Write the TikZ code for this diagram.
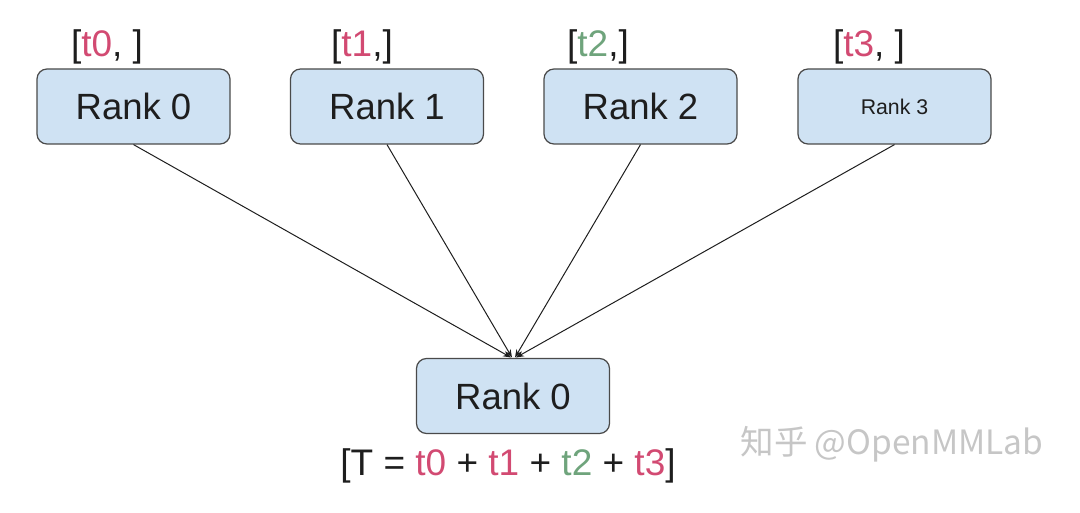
\documentclass[tikz,border=0pt]{standalone}
\usepackage{fontspec}
\setmainfont{Liberation Sans}
\newfontfamily\cjk{Noto Sans CJK SC}
\usetikzlibrary{arrows.meta}
\definecolor{boxfill}{HTML}{CFE2F3}
\definecolor{boxline}{HTML}{4A4A4A}
\definecolor{tred}{HTML}{D24A72}
\definecolor{tgreen}{HTML}{6FA47C}
\definecolor{ink}{HTML}{1E1E1E}
\tikzset{
  rankbox/.style={draw=boxline, line width=1.2pt, fill=boxfill, rounded corners=10pt,
    minimum width=193pt, minimum height=75pt, inner sep=0pt, text=ink,
    font=\fontsize{36.5}{40}\selectfont},
  vec/.style={text=ink, inner sep=0pt, font=\fontsize{37}{42}\selectfont},
  link/.style={draw=ink, line width=1pt, -{Stealth[length=8pt,width=6pt]}}
}
\begin{document}
\begin{tikzpicture}[x=1pt,y=-1pt]
\useasboundingbox (0,0) rectangle (1080,513);
\node[rankbox] (r0) at (133.5,106.5) {Rank 0};
\node[rankbox] (r1) at (387,106.5) {Rank 1};
\node[rankbox] (r2) at (640.5,106.5) {Rank 2};
\node[rankbox, font=\fontsize{21.3}{24}\selectfont] (r3) at (894.5,106.5) {Rank 3};
\node[rankbox] (b0) at (513,396) {Rank 0};
\node[vec] (l0) at (107,47) {[\textcolor{tred}{t0}, ]};
\node[vec] (l1) at (362,47) {[\textcolor{tred}{t1},]};
\node[vec] (l2) at (598,47) {[\textcolor{tgreen}{t2},]};
\node[vec] (l3) at (869,47) {[\textcolor{tred}{t3}, ]};
\node[vec] (sum) at (508,466) {[T = \textcolor{tred}{t0} + \textcolor{tred}{t1} + \textcolor{tgreen}{t2} + \textcolor{tred}{t3}]};
\coordinate (e0) at (511,357.5);
\coordinate (e1) at (512,357.5);
\coordinate (e2) at (515,357.5);
\coordinate (e3) at (516,357.5);
\draw[link] (r0.south) -- (e0);
\draw[link] (r1.south) -- (e1);
\draw[link] (r2.south) -- (e2);
\draw[link] (r3.south) -- (e3);
\node[text=gray!45, inner sep=0pt, font=\cjk\fontsize{33.5}{36}\selectfont] (wm) at (892,444) {知乎 @OpenMMLab};
\end{tikzpicture}
\end{document}
